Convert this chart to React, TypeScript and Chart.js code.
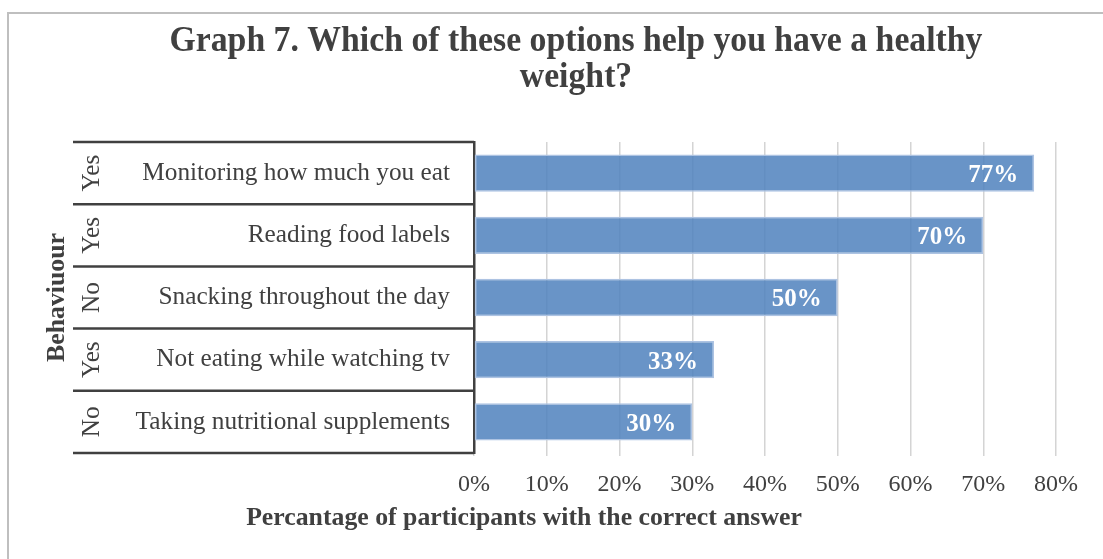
import { useEffect, useRef } from "react";
import { Chart, registerables } from "chart.js";

Chart.register(...registerables);

const categories = [
  "Monitoring how much you eat",
  "Reading food labels",
  "Snacking throughout the day",
  "Not eating while watching tv",
  "Taking nutritional supplements",
];
const correctAnswers = ["Yes", "Yes", "No", "Yes", "No"];
const percentValues = [77, 70, 50, 33, 30];
const xMin = 0;
const xMax = 80;
const xStep = 10;
const titleLines = ["Graph 7. Which of these options help you have a healthy", "weight?"];
const xAxisTitle = "Percantage of participants with the correct answer";
const yAxisTitle = "Behaviuour";

const SERIF = "'Liberation Serif', 'DejaVu Serif', serif";
const TEXT = "#404040";

function measure(text: string, weight: string, size: number): number {
  const c = document.createElement("canvas").getContext("2d")!;
  c.font = `${weight} ${size}px ${SERIF}`;
  return c.measureText(text).width;
}
function fitSize(text: string, weight: string, target: number): number {
  return (100 * target) / measure(text, weight, 100);
}

export default function App() {
  const ref = useRef<HTMLCanvasElement>(null);

  useEffect(() => {
    if (!ref.current) return;
    const tickSize = fitSize("Monitoring how much you eat", "normal", 308);
    const xTickSize = fitSize("80%", "normal", 44);
    const titleSize = 36;
    const titleScaleX = 813 / measure(titleLines[0], "bold", titleSize);
    const xTitleSize = fitSize(xAxisTitle, "bold", 556);
    const yTitleSize = fitSize(yAxisTitle, "bold", 129);
    const dataSize = fitSize("77%", "bold", 50);

    const decor = {
      id: "decor",
      beforeDraw(chart: any) {
        const ctx = chart.ctx;
        ctx.save();
        ctx.strokeStyle = "#bfbfbf";
        ctx.lineWidth = 2;
        ctx.beginPath();
        ctx.moveTo(8, 570);
        ctx.lineTo(8, 13);
        ctx.lineTo(1110, 13);
        ctx.stroke();
        // title (slightly condensed like the original)
        ctx.fillStyle = TEXT;
        ctx.font = `bold ${titleSize}px ${SERIF}`;
        ctx.textAlign = "center";
        ctx.textBaseline = "alphabetic";
        ctx.save();
        ctx.translate(576, 0);
        ctx.scale(titleScaleX, 1);
        ctx.fillText(titleLines[0], 0, 51);
        ctx.fillText(titleLines[1], 0, 87);
        ctx.restore();
        ctx.restore();
      },
      afterDatasetsDraw(chart: any) {
        const ctx = chart.ctx;
        const meta = chart.getDatasetMeta(0);
        ctx.save();
        ctx.fillStyle = "#ffffff";
        ctx.font = `bold ${dataSize}px ${SERIF}`;
        ctx.textAlign = "right";
        ctx.textBaseline = "middle";
        meta.data.forEach((bar: any, i: number) => {
          ctx.fillText(percentValues[i] + "%", bar.x - 16, bar.y + 2.5);
        });
        ctx.restore();
      },
      afterDraw(chart: any) {
        const ctx = chart.ctx;
        const y = chart.scales.y;
        const area = chart.chartArea;
        const n = categories.length;
        const half = n > 1 ? (y.getPixelForValue(1) - y.getPixelForValue(0)) / 2 : (area.bottom - area.top) / 2;
        ctx.save();
        ctx.strokeStyle = TEXT;
        ctx.lineWidth = 2.5;
        const bounds: number[] = [];
        for (let i = 0; i < n; i++) bounds.push(y.getPixelForValue(i) - half);
        bounds.push(y.getPixelForValue(n - 1) + half);
        bounds.forEach((b) => {
          ctx.beginPath();
          ctx.moveTo(73, b);
          ctx.lineTo(area.left, b);
          ctx.stroke();
        });
        // second level labels
        ctx.fillStyle = TEXT;
        ctx.font = `normal ${tickSize}px ${SERIF}`;
        ctx.textAlign = "center";
        ctx.textBaseline = "middle";
        for (let i = 0; i < n; i++) {
          ctx.save();
          ctx.translate(92, y.getPixelForValue(i));
          ctx.rotate(-Math.PI / 2);
          ctx.fillText(correctAnswers[i], 0, 0);
          ctx.restore();
        }
        // y axis title
        ctx.save();
        ctx.font = `bold ${yTitleSize}px ${SERIF}`;
        ctx.translate(57, (area.top + area.bottom) / 2);
        ctx.rotate(-Math.PI / 2);
        ctx.fillText(yAxisTitle, 0, 0);
        ctx.restore();
        // x axis title
        ctx.font = `bold ${xTitleSize}px ${SERIF}`;
        ctx.textBaseline = "alphabetic";
        ctx.fillText(xAxisTitle, 524, 525);
        ctx.restore();
      },
    };

    const chart = new Chart(ref.current, {
      type: "bar",
      data: {
        labels: categories,
        datasets: [
          {
            data: percentValues,
            backgroundColor: "rgba(79,129,189,0.85)",
            borderColor: "#adc3e2",
            borderWidth: 1.5,
            borderSkipped: false,
            barPercentage: 0.6,
            categoryPercentage: 1,
          },
        ],
      },
      options: {
        indexAxis: "y",
        responsive: false,
        animation: false,
        devicePixelRatio: 1,
        layout: { padding: { left: 0, right: 47, top: 142, bottom: 0 } },
        plugins: { legend: { display: false }, tooltip: { enabled: false }, title: { display: false } },
        scales: {
          x: {
            type: "linear",
            min: xMin,
            max: xMax,
            ticks: {
              stepSize: xStep,
              callback: (v: any) => v + "%",
              color: TEXT,
              font: { family: SERIF, size: xTickSize },
              padding: 14,
            },
            grid: { color: "#d4d4d4", lineWidth: 1.5, drawTicks: true, tickLength: 3 },
            border: { display: false },
            afterFit: (s: any) => {
              s.height = 559 - 453;
            },
          },
          y: {
            type: "category",
            grid: { display: false, drawTicks: false },
            border: { display: true, color: TEXT, width: 2.5 },
            ticks: {
              color: TEXT,
              font: { family: SERIF, size: tickSize },
              padding: 24,
              autoSkip: false,
            },
            afterFit: (s: any) => {
              s.width = 474;
            },
          },
        },
      },
      plugins: [decor],
    } as any);
    return () => chart.destroy();
  }, []);

  return (
    <div style={{ position: "fixed", left: 0, top: 0, width: 1103, height: 559, background: "#ffffff" }}>
      <canvas ref={ref} width={1103} height={559} style={{ display: "block" }} />
    </div>
  );
}
